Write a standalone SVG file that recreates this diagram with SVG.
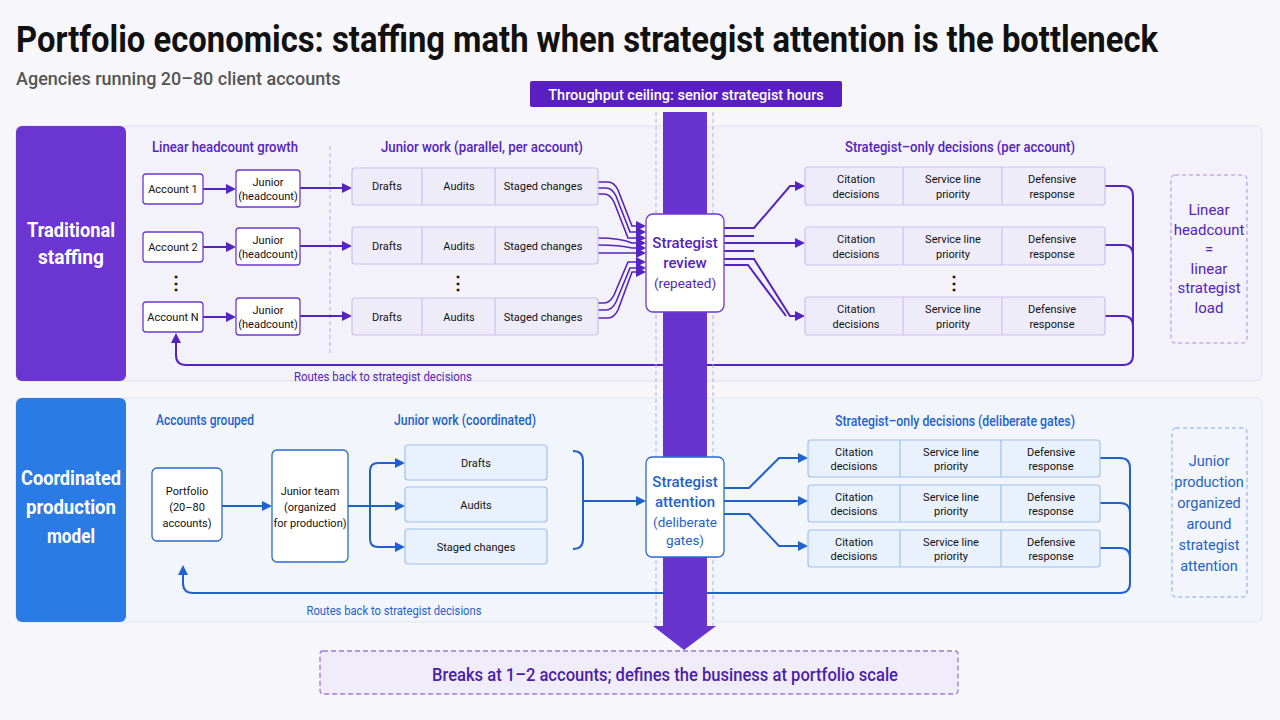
<svg xmlns="http://www.w3.org/2000/svg" width="1280" height="720" viewBox="0 0 1280 720">
<defs>
<marker id="ap" markerWidth="10" markerHeight="10" refX="8" refY="5" orient="auto" markerUnits="userSpaceOnUse"><path d="M0,0 L10,5 L0,10 z" fill="#5424c0"/></marker>
<marker id="apb" markerWidth="10" markerHeight="10" refX="8" refY="5" orient="auto" markerUnits="userSpaceOnUse"><path d="M0,0 L10,5 L0,10 z" fill="#1f62cc"/></marker>
</defs>
<style>
text{font-family:Roboto,"Liberation Sans",sans-serif}
.pt{fill:#111;font-size:11px;text-anchor:middle}
.ph{fill:#5424c0;font-size:14px;text-anchor:middle;font-weight:500}
.bh{fill:#1f62cc;font-size:14px;text-anchor:middle;font-weight:500}
.pbox{fill:#fff;stroke:#6a3ad0;stroke-width:1.3}
.bbox{fill:#fff;stroke:#2a6ad0;stroke-width:1.3}
.pw{fill:#efecfa;stroke:#cbbff0;stroke-width:1.2}
.bw{fill:#e9f1fc;stroke:#9fc2ee;stroke-width:1.2}
.pl{fill:none;stroke:#5424c0;stroke-width:2}
.bl{fill:none;stroke:#1f62cc;stroke-width:2}
.dv{stroke:#cbbff0;stroke-width:1.2}
.dvb{stroke:#9fc2ee;stroke-width:1.2}
</style>
<rect width="1280" height="720" fill="#f7f7fb"/>
<text x="16" y="52" font-size="36" font-weight="bold" fill="#111" textLength="1142" lengthAdjust="spacingAndGlyphs">Portfolio economics: staffing math when strategist attention is the bottleneck</text>
<text x="16" y="85" font-size="18" fill="#555" font-weight="500">Agencies running 20–80 client accounts</text>

<g id="panel-top">
<rect x="16" y="126" width="1246" height="255" rx="6" fill="#f3f2fa" stroke="#e1dff0"/>
<rect x="16" y="126" width="110" height="255" rx="6" fill="#6a35d0"/>
<text x="71" y="237" fill="#fff" font-size="21" font-weight="bold" text-anchor="middle" textLength="88" lengthAdjust="spacingAndGlyphs">Traditional</text>
<text x="71" y="264" fill="#fff" font-size="21" font-weight="bold" text-anchor="middle" textLength="66" lengthAdjust="spacingAndGlyphs">staffing</text>
</g>
<g id="panel-bottom">
<rect x="16" y="398" width="1246" height="224" rx="6" fill="#f2f5fb" stroke="#e0e5f0"/>
<rect x="16" y="398" width="110" height="224" rx="6" fill="#2b7be4"/>
<text x="71" y="485" fill="#fff" font-size="21" font-weight="bold" text-anchor="middle" textLength="100" lengthAdjust="spacingAndGlyphs">Coordinated</text>
<text x="71" y="514" fill="#fff" font-size="21" font-weight="bold" text-anchor="middle" textLength="90" lengthAdjust="spacingAndGlyphs">production</text>
<text x="71" y="543" fill="#fff" font-size="21" font-weight="bold" text-anchor="middle" textLength="48" lengthAdjust="spacingAndGlyphs">model</text>
</g>

<text class="ph" x="225" y="152" textLength="146" lengthAdjust="spacingAndGlyphs">Linear headcount growth</text>
<text class="ph" x="482" y="152" textLength="202" lengthAdjust="spacingAndGlyphs">Junior work (parallel, per account)</text>
<text class="ph" x="960" y="152" textLength="230" lengthAdjust="spacingAndGlyphs">Strategist–only decisions (per account)</text>
<line x1="330" y1="146" x2="330" y2="355" stroke="#b9a8e8" stroke-dasharray="4,3"/>
<text class="bh" x="205" y="425" textLength="98" lengthAdjust="spacingAndGlyphs">Accounts grouped</text>
<text class="bh" x="465" y="425" textLength="142" lengthAdjust="spacingAndGlyphs">Junior work (coordinated)</text>
<text class="bh" x="955" y="426" textLength="240" lengthAdjust="spacingAndGlyphs">Strategist–only decisions (deliberate gates)</text>

<g id="connectors">
<path class="pl" d="M1105,186 h18 q10,0 10,10 V355 q0,10 -10,10 H186 q-10,0 -10,-10 V335" marker-end="url(#ap)"/>
<path class="pl" d="M1105,245 h18 q10,0 10,10"/>
<path class="pl" d="M1105,316 h18 q10,0 10,10"/>
<path class="bl" d="M1100,458 h20 q10,0 10,10 V583 q0,10 -10,10 H193 q-10,0 -10,-10 V567" marker-end="url(#apb)"/>
<path class="bl" d="M1100,503 h20 q10,0 10,10"/>
<path class="bl" d="M1100,548 h20 q10,0 10,10"/>
</g>

<g id="ceiling">
<line x1="656" y1="112" x2="656" y2="628" stroke="#b9a8e8" stroke-dasharray="4,3"/>
<line x1="713" y1="112" x2="713" y2="628" stroke="#b9a8e8" stroke-dasharray="4,3"/>
<rect x="663" y="112" width="44" height="516" fill="#6834d0"/>
<polygon points="653,626 716,626 684,650" fill="#6834d0"/>
<rect x="530" y="81" width="312" height="26" rx="2" fill="#5a1fc0"/>
<text x="686" y="100" fill="#fff" font-size="14.5" font-weight="500" text-anchor="middle">Throughput ceiling: senior strategist hours</text>
</g>

<g id="connectors-2">
<path class="pl" d="M203,189 H234" marker-end="url(#ap)"/>
<path class="pl" d="M203,247 H234" marker-end="url(#ap)"/>
<path class="pl" d="M203,317 H234" marker-end="url(#ap)"/>
<path class="pl" d="M300,188 H350" marker-end="url(#ap)"/>
<path class="pl" d="M300,246 H350" marker-end="url(#ap)"/>
<path class="pl" d="M300,316 H350" marker-end="url(#ap)"/>
<path class="pl" style="stroke-width:1.6" d="M598,182 h10 q6,0 10,8 L632,226 h12" marker-end="url(#ap)"/>
<path class="pl" style="stroke-width:1.6" d="M598,188 h8 q6,0 10,8 L630,232 h14" marker-end="url(#ap)"/>
<path class="pl" style="stroke-width:1.6" d="M598,194 h6 q6,0 10,8 L628,238 h16" marker-end="url(#ap)"/>
<path class="pl" style="stroke-width:1.6" d="M598,238 q22,0 34,5 h12" marker-end="url(#ap)"/>
<path class="pl" style="stroke-width:1.6" d="M598,245 q22,0 34,3 h12" marker-end="url(#ap)"/>
<path class="pl" style="stroke-width:1.6" d="M598,253 q22,0 34,0 h12" marker-end="url(#ap)"/>
<path class="pl" style="stroke-width:1.6" d="M598,303 h6 q6,0 10,-8 L628,262 h16" marker-end="url(#ap)"/>
<path class="pl" style="stroke-width:1.6" d="M598,310 h8 q6,0 10,-8 L630,268 h14" marker-end="url(#ap)"/>
<path class="pl" style="stroke-width:1.6" d="M598,318 h10 q6,0 10,-8 L632,272 h12" marker-end="url(#ap)"/>
<path class="pl" d="M724,228 h30 L790,186 h13" marker-end="url(#ap)"/>
<path class="pl" d="M724,236 h30"/>
<path class="pl" d="M724,243 h79" marker-end="url(#ap)"/>
<path class="pl" d="M724,251 h30"/>
<path class="pl" d="M724,259 h30 L790,316 h13" marker-end="url(#ap)"/>
<path class="pl" d="M724,265 h24 L786,316"/>
<path class="bl" d="M222,506 H270" marker-end="url(#apb)"/>
<path class="bl" d="M348,506 H403" marker-end="url(#apb)"/>
<path class="bl" d="M378,463 q-8,0 -8,8 V539 q0,8 8,8"/>
<path class="bl" d="M378,463 H403" marker-end="url(#apb)"/>
<path class="bl" d="M378,547 H403" marker-end="url(#apb)"/>
<path class="bl" d="M573,451 q10,0 10,10 V539 q0,10 -10,10"/>
<path class="bl" d="M583,501 H644" marker-end="url(#apb)"/>
<path class="bl" d="M724,488 h25 L779,458 h27" marker-end="url(#apb)"/>
<path class="bl" d="M724,501 h82" marker-end="url(#apb)"/>
<path class="bl" d="M724,514 h25 L779,546 h27" marker-end="url(#apb)"/>
</g>

<g id="account-1"><rect class="pbox" x="143" y="174" width="60" height="30" rx="3"/><text class="pt" x="173" y="193">Account 1</text></g>
<g id="account-2"><rect class="pbox" x="143" y="232" width="60" height="30" rx="3"/><text class="pt" x="173" y="251">Account 2</text></g>
<g id="account-n"><rect class="pbox" x="143" y="302" width="60" height="30" rx="3"/><text class="pt" x="173" y="321">Account N</text></g>
<text x="176" y="289" font-size="18" font-weight="bold" text-anchor="middle" fill="#111">⋮</text>
<g id="junior-1"><rect class="pbox" x="236" y="170" width="64" height="37" rx="3"/><text class="pt" x="268" y="186">Junior</text><text class="pt" x="268" y="200">(headcount)</text></g>
<g id="junior-2"><rect class="pbox" x="236" y="228" width="64" height="37" rx="3"/><text class="pt" x="268" y="244">Junior</text><text class="pt" x="268" y="258">(headcount)</text></g>
<g id="junior-n"><rect class="pbox" x="236" y="298" width="64" height="37" rx="3"/><text class="pt" x="268" y="314">Junior</text><text class="pt" x="268" y="328">(headcount)</text></g>

<g id="work-1"><rect class="pw" x="352" y="168" width="246" height="37" rx="3"/><line class="dv" x1="422" y1="168" x2="422" y2="205"/><line class="dv" x1="495" y1="168" x2="495" y2="205"/><text class="pt" x="387" y="190">Drafts</text><text class="pt" x="459" y="190">Audits</text><text class="pt" x="543" y="190">Staged changes</text></g>
<g id="work-2"><rect class="pw" x="352" y="227" width="246" height="37" rx="3"/><line class="dv" x1="422" y1="227" x2="422" y2="264"/><line class="dv" x1="495" y1="227" x2="495" y2="264"/><text class="pt" x="387" y="250">Drafts</text><text class="pt" x="459" y="250">Audits</text><text class="pt" x="543" y="250">Staged changes</text></g>
<g id="work-n"><rect class="pw" x="352" y="298" width="246" height="37" rx="3"/><line class="dv" x1="422" y1="298" x2="422" y2="335"/><line class="dv" x1="495" y1="298" x2="495" y2="335"/><text class="pt" x="387" y="321">Drafts</text><text class="pt" x="459" y="321">Audits</text><text class="pt" x="543" y="321">Staged changes</text></g>
<text x="458" y="289" font-size="18" font-weight="bold" text-anchor="middle" fill="#111">⋮</text>

<g id="strategist-review"><rect class="pbox" x="646" y="214" width="78" height="98" rx="7" stroke-width="1.6"/>
<text x="685" y="248" font-size="15" font-weight="500" fill="#5424c0" text-anchor="middle">Strategist</text>
<text x="685" y="268" font-size="15" font-weight="500" fill="#5424c0" text-anchor="middle">review</text>
<text x="685" y="288" font-size="13.5" fill="#5424c0" text-anchor="middle">(repeated)</text></g>

<g id="decisions-1"><rect class="pw" x="805" y="167" width="300" height="38" rx="3"/><line class="dv" x1="903" y1="167" x2="903" y2="205"/><line class="dv" x1="1002" y1="167" x2="1002" y2="205"/>
<text class="pt" x="856" y="183">Citation</text><text class="pt" x="856" y="198">decisions</text><text class="pt" x="953" y="183">Service line</text><text class="pt" x="953" y="198">priority</text><text class="pt" x="1052" y="183">Defensive</text><text class="pt" x="1052" y="198">response</text></g>
<g id="decisions-2"><rect class="pw" x="805" y="227" width="300" height="38" rx="3"/><line class="dv" x1="903" y1="227" x2="903" y2="265"/><line class="dv" x1="1002" y1="227" x2="1002" y2="265"/>
<text class="pt" x="856" y="243">Citation</text><text class="pt" x="856" y="258">decisions</text><text class="pt" x="953" y="243">Service line</text><text class="pt" x="953" y="258">priority</text><text class="pt" x="1052" y="243">Defensive</text><text class="pt" x="1052" y="258">response</text></g>
<text x="954" y="289" font-size="18" font-weight="bold" text-anchor="middle" fill="#111">⋮</text>
<g id="decisions-n"><rect class="pw" x="805" y="297" width="300" height="38" rx="3"/><line class="dv" x1="903" y1="297" x2="903" y2="335"/><line class="dv" x1="1002" y1="297" x2="1002" y2="335"/>
<text class="pt" x="856" y="313">Citation</text><text class="pt" x="856" y="328">decisions</text><text class="pt" x="953" y="313">Service line</text><text class="pt" x="953" y="328">priority</text><text class="pt" x="1052" y="313">Defensive</text><text class="pt" x="1052" y="328">response</text></g>

<text x="383" y="381" font-size="12" fill="#5424c0" text-anchor="middle" textLength="178" lengthAdjust="spacingAndGlyphs">Routes back to strategist decisions</text>

<g id="note-top"><rect x="1171" y="175" width="76" height="168" rx="4" fill="none" stroke="#a98be0" stroke-dasharray="4,3"/>
<g font-size="15" fill="#5424c0" text-anchor="middle"><text x="1209" y="215">Linear</text><text x="1209" y="235">headcount</text><text x="1209" y="254">=</text><text x="1209" y="274">linear</text><text x="1209" y="293">strategist</text><text x="1209" y="313">load</text></g></g>

<g id="portfolio"><rect class="bbox" x="152" y="468" width="70" height="73" rx="5"/><text class="pt" x="187" y="495">Portfolio</text><text class="pt" x="187" y="511">(20–80</text><text class="pt" x="187" y="527">accounts)</text></g>
<g id="junior-team"><rect class="bbox" x="272" y="450" width="76" height="112" rx="5"/><text class="pt" x="310" y="495">Junior team</text><text class="pt" x="310" y="511">(organized</text><text class="pt" x="310" y="527">for production)</text></g>
<g id="drafts"><rect class="bw" x="405" y="445" width="142" height="35" rx="3"/><text class="pt" x="476" y="467">Drafts</text></g>
<g id="audits"><rect class="bw" x="405" y="487" width="142" height="35" rx="3"/><text class="pt" x="476" y="509">Audits</text></g>
<g id="staged"><rect class="bw" x="405" y="529" width="142" height="35" rx="3"/><text class="pt" x="476" y="551">Staged changes</text></g>

<g id="strategist-attention"><rect class="bbox" x="646" y="457" width="78" height="100" rx="6" stroke-width="1.6"/>
<g font-size="15" font-weight="500" fill="#1f62cc" text-anchor="middle"><text x="685" y="487">Strategist</text><text x="685" y="507">attention</text></g>
<g font-size="13.5" fill="#1f62cc" text-anchor="middle"><text x="685" y="527">(deliberate</text><text x="685" y="545">gates)</text></g></g>

<g id="gate-1"><rect class="bw" x="808" y="440" width="292" height="37" rx="3"/><line class="dvb" x1="900" y1="440" x2="900" y2="477"/><line class="dvb" x1="1001" y1="440" x2="1001" y2="477"/>
<text class="pt" x="854" y="456">Citation</text><text class="pt" x="854" y="470">decisions</text><text class="pt" x="951" y="456">Service line</text><text class="pt" x="951" y="470">priority</text><text class="pt" x="1051" y="456">Defensive</text><text class="pt" x="1051" y="470">response</text></g>
<g id="gate-2"><rect class="bw" x="808" y="485" width="292" height="37" rx="3"/><line class="dvb" x1="900" y1="485" x2="900" y2="522"/><line class="dvb" x1="1001" y1="485" x2="1001" y2="522"/>
<text class="pt" x="854" y="501">Citation</text><text class="pt" x="854" y="515">decisions</text><text class="pt" x="951" y="501">Service line</text><text class="pt" x="951" y="515">priority</text><text class="pt" x="1051" y="501">Defensive</text><text class="pt" x="1051" y="515">response</text></g>
<g id="gate-3"><rect class="bw" x="808" y="530" width="292" height="37" rx="3"/><line class="dvb" x1="900" y1="530" x2="900" y2="567"/><line class="dvb" x1="1001" y1="530" x2="1001" y2="567"/>
<text class="pt" x="854" y="546">Citation</text><text class="pt" x="854" y="560">decisions</text><text class="pt" x="951" y="546">Service line</text><text class="pt" x="951" y="560">priority</text><text class="pt" x="1051" y="546">Defensive</text><text class="pt" x="1051" y="560">response</text></g>

<text x="394" y="615" font-size="12" fill="#1f62cc" text-anchor="middle" textLength="175" lengthAdjust="spacingAndGlyphs">Routes back to strategist decisions</text>

<g id="note-bottom"><rect x="1172" y="428" width="75" height="169" rx="4" fill="none" stroke="#7ea8e6" stroke-dasharray="4,3"/>
<g font-size="14.5" fill="#1f62cc" text-anchor="middle"><text x="1209" y="466">Junior</text><text x="1209" y="487">production</text><text x="1209" y="508">organized</text><text x="1209" y="529">around</text><text x="1209" y="550">strategist</text><text x="1209" y="571">attention</text></g></g>

<g id="conclusion"><rect x="320" y="651" width="638" height="43" rx="3" fill="#f1ecfa" stroke="#9b7ad8" stroke-dasharray="5,3" stroke-width="1.3"/>
<text x="665" y="681" font-size="19" font-weight="500" fill="#4a1fa8" text-anchor="middle" textLength="466" lengthAdjust="spacingAndGlyphs">Breaks at 1–2 accounts; defines the business at portfolio scale</text></g>
</svg>
